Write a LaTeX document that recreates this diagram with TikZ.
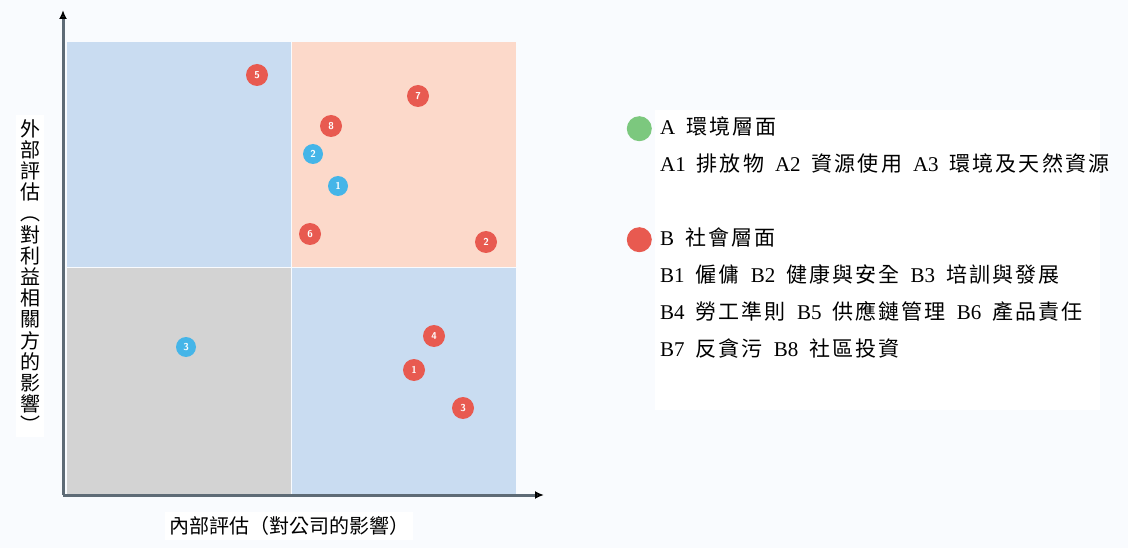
\documentclass[tikz,border=0pt]{standalone}
\usepackage{fontspec}
\setmainfont{Liberation Serif}
\newfontfamily\zh[LetterSpace=10]{Noto Sans CJK TC}
\newfontfamily\zhaxis{Noto Sans CJK TC}
\newcommand\legendfont{\fontsize{21}{21}\selectfont\spaceskip 11pt\relax}
\usetikzlibrary{arrows.meta,positioning,matrix}
\definecolor{quadblue}{HTML}{C9DCF1}
\definecolor{quadpeach}{HTML}{FCD9CA}
\definecolor{quadgray}{HTML}{D3D3D3}
\definecolor{dotred}{HTML}{E85A50}
\definecolor{dotblue}{HTML}{45B5E8}
\definecolor{dotgreen}{HTML}{7CC87E}
\definecolor{axisgray}{HTML}{5E6B76}
\definecolor{pagebg}{HTML}{F9FBFE}
\tikzset{
  issue/.style={circle,inner sep=0pt,minimum size=22pt,text=white,font=\sffamily\bfseries\fontsize{10}{10}\selectfont},
  socdot/.style={issue,fill=dotred},
  envdot/.style={issue,fill=dotblue,minimum size=20pt},
  legdot/.style={circle,inner sep=0pt,minimum size=25pt},
  axislabel/.style={fill=white,inner sep=4pt,font=\zhaxis\fontsize{20}{21.2}\selectfont}
}
\begin{document}
\begin{tikzpicture}[x=1pt,y=-1pt]
  \fill[pagebg] (0,0) rectangle (1128,548);
  \useasboundingbox (0,0) rectangle (1128,548);
  \fill[white] (655,110) rectangle (1100,410);
  \fill[quadblue] (67,42) rectangle (291,267);
  \fill[quadpeach] (292,42) rectangle (516,267);
  \fill[quadgray] (67,268) rectangle (291,494);
  \fill[quadblue] (292,268) rectangle (516,494);
  \coordinate (o) at (63,495);
  \coordinate (ytip) at (63,10);
  \coordinate (xtip) at (544,495);
  \path[color=axisgray,line width=3pt,-{Latex[color=black,length=9pt,width=8pt]}]
    (o) edge (ytip)
    (o) edge (xtip);
  \node[socdot] (b5) at (257,75) {5};
  \node[socdot] (b7) at (418,96) {7};
  \node[socdot] (b8) at (331,126) {8};
  \node[socdot] (b6) at (310,234) {6};
  \node[socdot] (b2) at (486,242) {2};
  \node[socdot] (b4) at (434,336) {4};
  \node[socdot] (b1) at (414,370) {1};
  \node[socdot] (b3) at (463,408) {3};
  \node[envdot] (a2) at (313,154) {2};
  \node[envdot] (a1) at (338,186) {1};
  \node[envdot] (a3) at (186,347) {3};
  \node[axislabel,align=center] (ylabel) at (30,276)
    {外\\部\\評\\估\\︵\\對\\利\\益\\相\\關\\方\\的\\影\\響\\︶};
  \node[axislabel] (xlabel) at (289,526) {內部評估（對公司的影響）};
  \matrix (legend) [matrix of nodes,row sep={37pt,between origins},inner sep=0pt,anchor=north west,ampersand replacement=\&,
    nodes={anchor=base west,inner sep=0pt,text height=16pt,text depth=5pt,font=\legendfont}] at (660,118)
   {
     A {\zh 環境層面} \\
     A1 {\zh 排放物} A2 {\zh 資源使用} A3 {\zh 環境及天然資源} \\
     {} \\
     B {\zh 社會層面} \\
     B1 {\zh 僱傭} B2 {\zh 健康與安全} B3 {\zh 培訓與發展} \\
     B4 {\zh 勞工準則} B5 {\zh 供應鏈管理} B6 {\zh 產品責任} \\
     B7 {\zh 反貪污} B8 {\zh 社區投資} \\
   };
  \node[legdot,fill=dotgreen,left=8pt of legend-1-1.west] (envkey) {};
  \node[legdot,fill=dotred,left=8pt of legend-4-1.west] (sockey) {};
\end{tikzpicture}
\end{document}
